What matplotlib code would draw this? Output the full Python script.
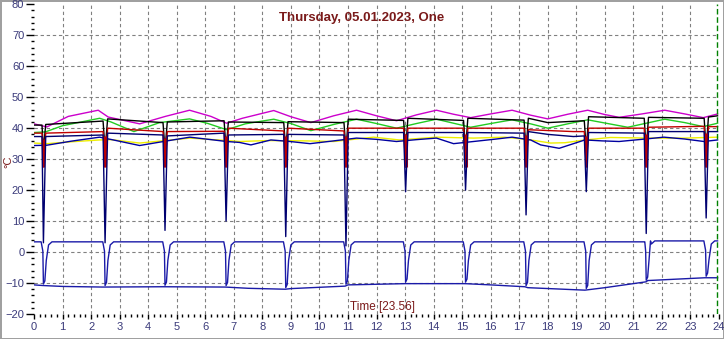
import numpy as np
import matplotlib
matplotlib.use("Agg")
import matplotlib.pyplot as plt

plt.rcParams['font.family'] = ['Liberation Sans', 'DejaVu Sans']

# ---- data (hours, °C) -------------------------------------------------
defrost_times = [0.33, 2.49, 4.59, 6.73, 8.82, 10.93, 13.02, 15.12, 17.24, 19.35, 21.45, 23.55]

magenta_t = [0.0, 0.45, 1.2, 2.25, 2.6, 3.7, 4.6, 5.45, 6.2, 6.75, 7.3, 8.4, 9.0, 9.7, 10.5, 11.3,
             12.0, 12.7, 13.4, 14.1, 14.7, 15.3, 16.0, 16.75, 17.4, 18.0, 18.7, 19.4, 20.0, 20.5,
             21.3, 22.1, 22.8, 23.45, 23.95]
magenta_v = [41.4, 40.4, 43.8, 45.8, 43.6, 41.4, 43.8, 45.8, 43.8, 41.6, 43.2, 45.7, 43.7, 41.8,
             44.0, 45.8, 44.0, 42.4, 44.3, 45.8, 44.5, 43.4, 44.6, 45.8, 44.2, 43.0, 44.5, 45.8,
             44.4, 43.5, 44.6, 45.8, 44.6, 43.4, 44.6]

green_t = [0.0, 0.4, 1.0, 2.3, 2.7, 3.5, 4.4, 5.45, 6.1, 6.75, 7.4, 8.4, 9.0, 9.7, 10.5, 11.3, 12.0,
           12.7, 13.4, 14.1, 14.7, 15.3, 16.0, 16.75, 17.4, 18.0, 18.7, 19.4, 20.1, 20.8, 21.4,
           22.1, 22.8, 23.45, 23.95]
green_v = [38.6, 38.8, 40.8, 43.2, 42.0, 38.9, 41.8, 43.0, 41.5, 39.5, 41.4, 42.9, 41.5, 39.2, 41.2,
           42.9, 41.5, 40.0, 41.5, 42.9, 41.6, 40.3, 41.5, 42.7, 41.4, 40.0, 41.4, 42.7, 41.5, 40.3,
           41.5, 42.9, 41.8, 40.5, 41.6]

black_t = [0.0, 0.28, 0.41, 2.42, 2.58, 4.52, 4.67, 6.66, 6.81, 8.75, 8.9, 10.86, 11.01, 12.95,
           13.1, 15.05, 15.2, 17.17, 17.32, 18.0, 19.28, 19.43, 21.38, 21.53, 23.48, 23.63, 23.95]
black_v = [41.0, 41.0, 41.2, 42.3, 43.0, 41.8, 42.0, 42.4, 42.0, 41.8, 42.1, 41.8, 42.9, 42.5,
           43.2, 42.5, 43.2, 42.6, 43.2, 41.8, 42.4, 43.7, 43.2, 43.5, 43.2, 43.6, 44.0]
black_dip = [33, 33, 33, 33, 33, 33, 33, 33, 33, 33, 33, 33]

red_t = [0.0, 0.28, 0.41, 2.42, 2.58, 4.52, 4.67, 6.66, 6.81, 8.75, 8.9, 10.86, 11.01, 12.95,
         13.1, 15.05, 15.2, 17.17, 17.32, 18.9, 19.28, 19.43, 21.38, 21.53, 23.48, 23.63, 23.95]
red_v = [38.4, 38.4, 38.4, 38.9, 40.0, 38.9, 38.9, 39.0, 40.0, 39.1, 40.0, 39.1, 40.0, 40.0,
         40.0, 40.0, 40.0, 40.0, 39.5, 38.9, 38.9, 40.0, 40.0, 40.3, 40.6, 40.5, 40.5]
red_dip = [27.5, 27.5, 27.5, 27.5, 27.5, 27.5, 27.5, 27.5, 27.5, 27.5, 27.5, 27.5]

navy_t = [0.0, 0.28, 0.41, 2.42, 2.58, 4.52, 4.67, 6.66, 6.81, 8.75, 8.9, 10.86, 11.01, 12.95,
          13.1, 15.05, 15.2, 17.17, 17.32, 18.0, 18.9, 19.28, 19.43, 21.38, 21.53, 23.48, 23.63, 23.95]
navy_v = [37.3, 37.3, 37.3, 37.8, 38.4, 37.8, 37.5, 38.4, 37.8, 38.0, 38.0, 37.8, 38.6, 38.6,
          38.6, 38.6, 38.6, 38.4, 38.9, 38.0, 37.3, 37.5, 38.6, 38.4, 38.9, 38.9, 38.9, 38.9]
navy_dip = [3, 3, 7, 10, 5, 2, 19.5, 20, 12, 19.5, 6, 11]

blue_t = [0.0, 0.45, 1.3, 2.3, 2.78, 3.7, 4.6, 5.46, 6.2, 6.75, 7.2, 7.6, 8.3, 8.97, 9.67, 10.5,
          11.3, 12.0, 12.7, 13.4, 14.1, 14.7, 15.4, 16.1, 16.75, 17.4, 17.75, 18.4, 19.3, 19.9,
          20.5, 21.3, 22.07, 22.8, 23.47, 23.95]
blue_v = [34.4, 34.5, 35.8, 37.1, 36.2, 34.4, 35.8, 37.1, 36.3, 35.7, 35.4, 34.6, 36.2, 35.7,
          35.0, 35.9, 36.8, 36.4, 35.7, 36.3, 36.8, 35.0, 35.7, 36.4, 37.1, 36.2, 34.6, 33.5, 36.2,
          35.9, 35.7, 36.4, 37.1, 36.5, 35.7, 36.2]

yellow_t = [0.0, 0.45, 1.3, 2.3, 2.7, 3.7, 4.6, 5.46, 6.3, 7.2, 8.2, 9.5, 10.5, 11.9, 12.8, 14.1,
            15.4, 16.5, 17.4, 18.1, 18.6, 19.3, 20.2, 21.5, 22.8, 23.95]
yellow_v = [35.2, 35.0, 35.6, 36.2, 36.3, 35.2, 36.0, 36.8, 36.3, 35.7, 36.0, 35.9, 35.7, 37.1,
            36.2, 37.1, 36.8, 37.1, 36.2, 35.2, 35.3, 36.2, 37.0, 36.8, 36.8, 37.1]

upper_level_t = [0.0, 21.4, 21.6, 23.95]
upper_level_v = [3.3, 3.3, 3.6, 3.6]

lower_t = [0.0, 0.3, 1.0, 2.4, 4.5, 6.7, 7.5, 8.8, 9.0, 10.9, 11.0, 13.0, 15.1, 16.0, 17.2, 17.3,
           19.3, 20.0, 21.45, 21.5, 23.5, 23.95]
lower_v = [-10.6, -10.8, -11.1, -11.3, -11.2, -11.3, -11.7, -12.0, -11.8, -11.0, -10.6, -10.2,
           -10.2, -10.6, -11.2, -11.5, -12.3, -11.5, -9.6, -9.2, -8.3, -8.3]

current_time = 23.93
title = "Thursday, 05.01.2023, One"
time_label = "Time [23.56]"
y_unit = "°C"

# ---- helpers --------------------------------------------------------
def add_dips(t, v, times, depths):
    """Insert the low point of each defrost drop into a channel."""
    t = list(t) + list(times)
    v = list(v) + list(depths)
    order = np.argsort(t, kind="stable")
    return np.asarray(t)[order], np.asarray(v)[order]


def square_dips(level_t, level_v, low_t, low_v, times):
    """Upper square-wave channel that falls to the lower channel at each defrost."""
    ts, vs = [], []
    for d in times:
        lo = np.interp(d, low_t, low_v)
        hi_b = np.interp(d - 0.08, level_t, level_v)
        hi_a = np.interp(d + 0.3, level_t, level_v)
        ts += [d - 0.08, d - 0.02, d, d + 0.05, d + 0.1, d + 0.18, d + 0.3]
        vs += [hi_b, hi_b - 3.0, lo + 0.5, lo + 1.5, hi_a - 6, hi_a - 1, hi_a]
    t = list(level_t) + ts
    v = list(level_v) + vs
    order = np.argsort(t, kind="stable")
    return np.asarray(t)[order], np.asarray(v)[order]


# ---- figure ------------------------------------------------------------
fig = plt.figure(figsize=(7.24, 3.39), dpi=100)
fig.patch.set_facecolor("white")
fig.patch.set_edgecolor("#a0a0a0")
fig.patch.set_linewidth(2)

ax = fig.add_axes([34 / 724, 25 / 339, 685 / 724, 309.7 / 339])
ax.set_xlim(0, 24)
ax.set_ylim(-20, 80)
for s in ax.spines.values():
    s.set_visible(False)

grid_kw = dict(color="#808080", lw=0.8, ls=(0, (3, 2.5)), zorder=0)
for x in range(1, 24):
    ax.axvline(x, **grid_kw)
for y in range(-10, 80, 10):
    ax.axhline(y, **grid_kw)

lw = 1.0
ax.plot(magenta_t, magenta_v, color="#cc00cc", lw=lw, zorder=3)
ax.plot(green_t, green_v, color="#22cc22", lw=lw, zorder=3)
ax.plot(yellow_t, yellow_v, color="#eeee00", lw=lw, zorder=3)
ax.plot(blue_t, blue_v, color="#0000a0", lw=lw, zorder=3)

bt, bv = add_dips(black_t, black_v, defrost_times, black_dip)
ax.plot(bt, bv, color="black", lw=lw, zorder=4)
rt, rv = add_dips(red_t, red_v, defrost_times, red_dip)
ax.plot(rt, rv, color="#c00000", lw=lw, zorder=5)
# the red drop shows as a filled wedge at each defrost
for d, dep in zip(defrost_times, red_dip):
    ax.plot([d, d], [dep, np.interp(d, red_t, red_v) - 2], color="#c00000", lw=2.2,
            solid_capstyle="butt", zorder=5)
nt, nv = add_dips(navy_t, navy_v, defrost_times, navy_dip)
ax.plot(nt, nv, color="#000070", lw=lw, zorder=6)

ut, uv = square_dips(upper_level_t, upper_level_v, lower_t, lower_v, defrost_times)
ax.plot(ut, uv, color="#1a1aa8", lw=lw, zorder=3)
ax.plot(lower_t, lower_v, color="#1a1aa8", lw=lw, zorder=3)

ax.axvline(current_time, color="#008000", lw=1.0, ls=(0, (4, 2)), zorder=7)

# ticks
ax.set_xticks(range(0, 25))
ax.set_xticks(np.arange(0, 24.01, 0.2), minor=True)
ax.set_yticks(range(-20, 81, 10))
ax.set_yticks(range(-20, 81, 2), minor=True)
tick_col = "#3a3a7a"
ax.tick_params(axis="y", which="major", length=6, width=1, labelsize=8, labelcolor=tick_col, pad=1)
ax.tick_params(axis="y", which="minor", length=2.5, width=1)
ax.tick_params(axis="x", which="major", length=3.5, width=1, labelsize=8, labelcolor=tick_col, pad=2)
ax.tick_params(axis="x", which="minor", length=2.5, width=1)

maroon = "#7a1a1a"
ax.text(0.479, 0.956, title, transform=ax.transAxes, ha="center", va="center",
        fontsize=9.5, fontweight="bold", color=maroon)
ax.text(0.509, 0.022, time_label, transform=ax.transAxes, ha="center", va="center",
        fontsize=8.5, color=maroon)
fig.text(8 / 724, 0.522, y_unit, rotation=90, ha="center", va="center", fontsize=8, color=maroon)

fig.savefig("out.png", dpi=100)
